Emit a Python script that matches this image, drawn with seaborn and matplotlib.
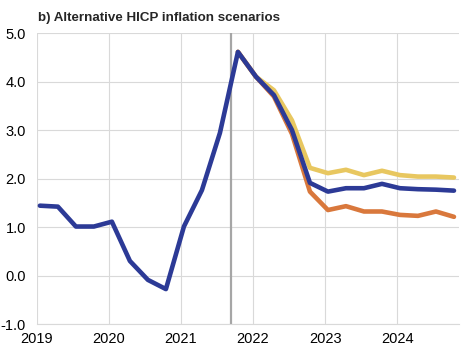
import numpy as np
import pandas as pd
import matplotlib
matplotlib.use("Agg")
import matplotlib.pyplot as plt
import seaborn as sns

# quarterly HICP inflation, 2019Q1 - 2024Q4
quarters = [f"{y}Q{q}" for y in range(2019, 2025) for q in range(1, 5)]
baseline = [1.44, 1.42, 1.01, 1.01, 1.11, 0.30, -0.09, -0.28,
            1.01, 1.76, 2.94, 4.61, 4.10, 3.72, 3.00, 1.91,
            1.73, 1.80, 1.80, 1.89, 1.80, 1.78, 1.77, 1.75]
# scenarios from 2021Q4 onwards
upside = [4.61, 4.10, 3.82, 3.20, 2.22, 2.11, 2.18, 2.07, 2.16, 2.07, 2.04, 2.04, 2.02]
downside = [4.61, 4.10, 3.69, 2.92, 1.73, 1.35, 1.43, 1.32, 1.32, 1.25, 1.23, 1.32, 1.21]
year_ticks = [2019, 2020, 2021, 2022, 2023, 2024]
cutoff = 2021.69

xpos = np.array([2019.04 + i / 4 for i in range(len(quarters))])
df = pd.DataFrame({"x": xpos, "baseline": baseline})
scen = pd.DataFrame({"x": xpos[11:], "upside": upside, "downside": downside})

sns.set_style("white")
plt.rcParams["font.family"] = ["Liberation Sans", "DejaVu Sans"]

fig = plt.figure(figsize=(4.72, 3.52), dpi=100)
ax = fig.add_axes([0.0784, 0.0795, 0.8941, 0.8267])

sns.lineplot(data=scen, x="x", y="upside", color="#E8C760", linewidth=3.3, ax=ax)
sns.lineplot(data=scen, x="x", y="downside", color="#D9783C", linewidth=3.3, ax=ax)
sns.lineplot(data=df, x="x", y="baseline", color="#2C3A96", linewidth=3.3, ax=ax)
ax.axvline(cutoff, color="#A6A6A6", linewidth=1.6, zorder=1)

ax.set_xlim(2019, 2024.86)
ax.set_ylim(-1, 5)
ax.set_xticks(year_ticks)
ax.set_xticklabels([str(y) for y in year_ticks])
ax.set_yticks(np.arange(-1, 5.1, 1))
ax.set_yticklabels([f"{v:.1f}" for v in np.arange(-1, 5.1, 1)])
ax.grid(True, color="#D9D9D9", linewidth=0.8)
ax.set_axisbelow(True)
for s in ["top", "right", "left"]:
    ax.spines[s].set_visible(False)
ax.spines["bottom"].set_color("#D9D9D9")
ax.tick_params(axis="both", length=0, labelsize=10.5, colors="black")
ax.tick_params(axis="x", pad=6)
ax.tick_params(axis="y", pad=8)
ax.set_xlabel("")
ax.set_ylabel("")

fig.text(0.08, 0.95, "b) Alternative HICP inflation scenarios",
         fontsize=9.6, fontweight="bold", va="center", ha="left")

fig.savefig("out.png", dpi=100)
